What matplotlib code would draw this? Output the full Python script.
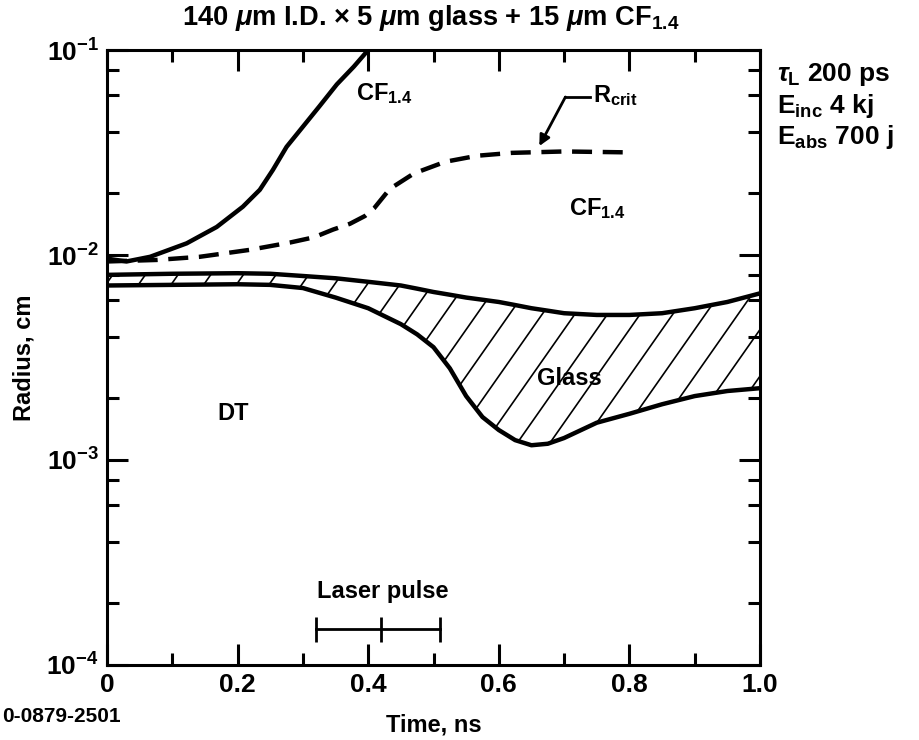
import numpy as np
import matplotlib
matplotlib.use("Agg")
import matplotlib.pyplot as plt
from matplotlib.collections import LineCollection
from matplotlib.ticker import FixedLocator, NullFormatter

# ---------------------------------------------------------
# values
# ---------------------------------------------------------

# outer radius of the CF1.4 layer (solid line)
t_cf = [0.0, 0.03, 0.066, 0.122, 0.168, 0.208, 0.234, 0.254, 0.275,
        0.298, 0.325, 0.352, 0.378, 0.40]
r_cf = [9.6e-3, 9.3e-3, 9.8e-3, 1.14e-2, 1.37e-2, 1.72e-2, 2.08e-2,
        2.6e-2, 3.37e-2, 4.15e-2, 5.3e-2, 6.8e-2, 8.3e-2, 1.0e-1]

# critical radius (dashed line)
t_crit = [0.0, 0.076, 0.142, 0.219, 0.28, 0.317, 0.346, 0.372, 0.395,
          0.409, 0.433, 0.47, 0.518, 0.567, 0.62, 0.70, 0.79]
r_crit = [9.3e-3, 9.46e-3, 9.8e-3, 1.06e-2, 1.15e-2, 1.22e-2, 1.33e-2,
          1.42e-2, 1.55e-2, 1.69e-2, 2.1e-2, 2.5e-2, 2.85e-2, 3.05e-2,
          3.15e-2, 3.2e-2, 3.17e-2]

# glass shell: outer and inner radius
t_glass = [0.0, 0.1, 0.2, 0.25, 0.3, 0.35, 0.4, 0.45, 0.475, 0.5, 0.525,
           0.55, 0.575, 0.6, 0.625, 0.65, 0.675, 0.7, 0.75, 0.8, 0.85,
           0.9, 0.95, 1.0]
r_glass_out = [8.0e-3, 8.1e-3, 8.15e-3, 8.1e-3, 7.9e-3, 7.7e-3, 7.4e-3,
               7.1e-3, 6.85e-3, 6.6e-3, 6.4e-3, 6.2e-3, 6.05e-3, 5.9e-3,
               5.7e-3, 5.5e-3, 5.35e-3, 5.2e-3, 5.1e-3, 5.1e-3, 5.2e-3,
               5.5e-3, 5.9e-3, 6.5e-3]
r_glass_in = [7.1e-3, 7.15e-3, 7.2e-3, 7.15e-3, 6.9e-3, 6.2e-3, 5.5e-3,
              4.6e-3, 4.1e-3, 3.55e-3, 2.8e-3, 2.05e-3, 1.62e-3, 1.4e-3,
              1.25e-3, 1.18e-3, 1.2e-3, 1.28e-3, 1.52e-3, 1.68e-3, 1.87e-3,
              2.05e-3, 2.17e-3, 2.24e-3]

# laser pulse marker (start, peak, end) in ns
pulse_t = [0.32, 0.42, 0.51]
pulse_level = 1.5e-4

x_ticks = [0, 0.2, 0.4, 0.6, 0.8, 1.0]
x_tick_labels = ["0", "0.2", "0.4", "0.6", "0.8", "1.0"]
y_ticks = [1e-4, 1e-3, 1e-2, 1e-1]
y_tick_labels = [r"$10^{-4}$", r"$10^{-3}$", r"$10^{-2}$", r"$10^{-1}$"]

# ---------------------------------------------------------
# style
# ---------------------------------------------------------
plt.rcParams["font.family"] = ["Liberation Sans", "DejaVu Sans"]
plt.rcParams["font.weight"] = "bold"
plt.rcParams["axes.labelweight"] = "bold"
plt.rcParams["mathtext.fontset"] = "custom"
plt.rcParams["mathtext.rm"] = "Liberation Sans:bold"
plt.rcParams["mathtext.bf"] = "Liberation Sans:bold"
plt.rcParams["mathtext.it"] = "Liberation Sans:italic:bold"
plt.rcParams["mathtext.default"] = "rm"

LW = 1.6
fig = plt.figure(figsize=(4.6, 3.7), dpi=200)
ax = fig.add_axes([0.1163, 0.1014, 0.7098, 0.831])

ax.set_yscale("log")
ax.set_xlim(0, 1.0)
ax.set_ylim(1e-4, 1e-1)

# glass shell: hatch lines (steeper than the built-in '/') clipped to the band
band = ax.fill_between(t_glass, r_glass_in, r_glass_out, facecolor="none",
                       linewidth=0)
hatch_step = 0.05      # spacing along x, in axes fraction
hatch_run = 0.66       # x shift over the full axes height (about 55 deg)
starts = np.arange(-hatch_run, 1.0 + hatch_step, hatch_step)
segs = [[(c, 0.0), (c + hatch_run, 1.0)] for c in starts]
hatch = LineCollection(segs, colors="black", linewidths=0.6,
                       transform=ax.transAxes)
ax.add_collection(hatch)
hatch.set_clip_path(band.get_paths()[0], ax.transData)

ax.plot(t_glass, r_glass_out, color="black", lw=LW)
ax.plot(t_glass, r_glass_in, color="black", lw=LW)

# CF1.4 outer radius and critical radius
ax.plot(t_cf, r_cf, color="black", lw=LW)
ax.plot(t_crit, r_crit, color="black", lw=LW, linestyle=(0, (4.5, 2.4)))

# laser pulse bar
ax.plot([pulse_t[0], pulse_t[-1]], [pulse_level, pulse_level],
        color="black", lw=1.0)
ax.plot(pulse_t, [pulse_level] * 3, linestyle="none", marker="|",
        markersize=9, markeredgewidth=1.0, color="black")

# labels inside the plot
FS = 8.5
ax.text(0.382, 5.7e-2, r"CF$_{1.4}$", fontsize=FS, ha="left", va="baseline")
ax.text(0.707, 1.57e-2, r"CF$_{1.4}$", fontsize=FS, ha="left", va="baseline")
ax.text(0.744, 5.6e-2, r"R$_{\rm crit}$", fontsize=FS, ha="left", va="baseline")
ax.text(0.659, 2.32e-3, "Glass", fontsize=FS, ha="left", va="baseline")
ax.text(0.193, 1.57e-3, "DT", fontsize=FS, ha="center", va="baseline")
ax.text(0.422, 2.12e-4, "Laser pulse", fontsize=FS, ha="center",
        va="baseline")

# R_crit leader with arrow
ax.plot([0.740, 0.702], [5.9e-2, 5.9e-2], color="black", lw=1.0)
ax.annotate("", xy=(0.662, 3.4e-2), xytext=(0.702, 5.9e-2),
            arrowprops=dict(arrowstyle="-|>", color="black", lw=1.0,
                            mutation_scale=8, shrinkA=0, shrinkB=0))

# ticks
ax.xaxis.set_major_locator(FixedLocator(x_ticks))
ax.xaxis.set_minor_locator(FixedLocator([0.1, 0.3, 0.5, 0.7, 0.9]))
ax.set_xticklabels(x_tick_labels)
ax.yaxis.set_major_locator(FixedLocator(y_ticks))
minor_y = [m * 10.0 ** e for e in (-4, -3, -2) for m in (2, 4, 6, 8)]
ax.yaxis.set_minor_locator(FixedLocator(minor_y))
ax.yaxis.set_minor_formatter(NullFormatter())
ax.set_yticklabels(y_tick_labels)

ax.tick_params(which="both", direction="in", top=True, right=True,
               width=1.1, labelsize=9.5)
ax.tick_params(which="major", length=7.5, pad=3)
ax.tick_params(which="minor", length=4.2)
for s in ax.spines.values():
    s.set_linewidth(1.1)

ax.set_xlabel("Time, ns", fontsize=FS, labelpad=6)
ax.set_ylabel("Radius, cm", fontsize=FS, labelpad=4)

# title and side notes
fig.text(0.468, 0.966,
         r"140 $\mathit{\mu}$m I.D. $\times$ 5 $\mathit{\mu}$m glass"
         r" + 15 $\mathit{\mu}$m CF$_{1.4}$",
         fontsize=9.8, ha="center", va="baseline")
fig.text(0.845, 0.890, r"$\mathit{\tau}_{\rm L}$ 200 ps", fontsize=9.5,
         va="baseline")
fig.text(0.845, 0.847, r"E$_{\rm inc}$ 4 kj", fontsize=9.5, va="baseline")
fig.text(0.845, 0.805, r"E$_{\rm abs}$ 700 j", fontsize=9.5, va="baseline")
fig.text(0.002, 0.025, "0-0879-2501", fontsize=7.5, ha="left",
         va="baseline")

fig.savefig("out.png", dpi=200)
